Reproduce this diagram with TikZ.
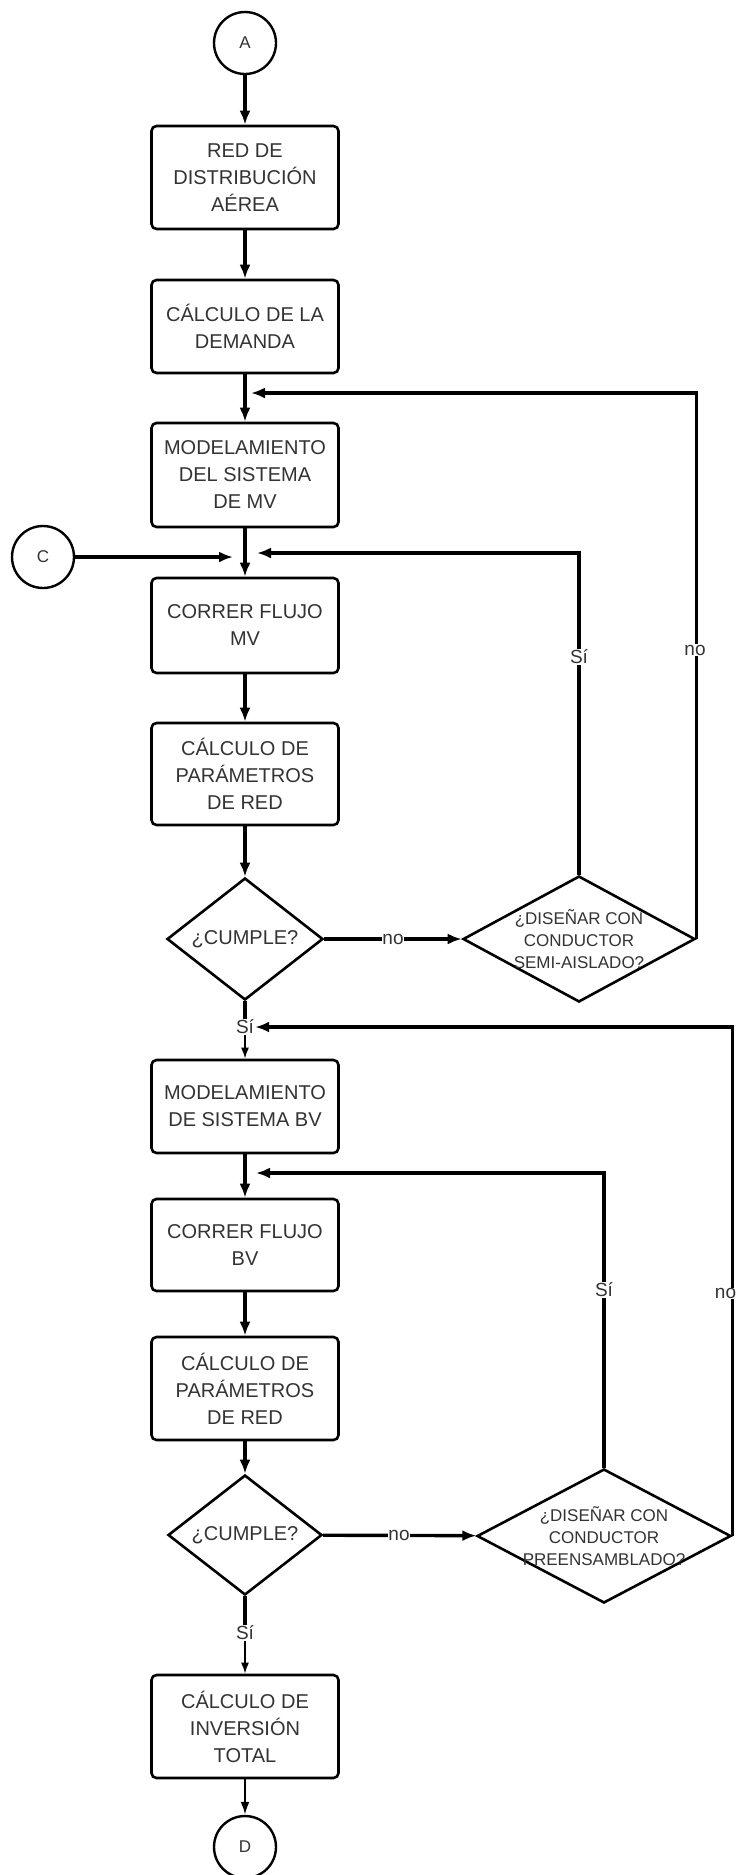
\documentclass[tikz,border=0pt]{standalone}
\usepackage{fontspec}
\setmainfont{Liberation Sans}
\usetikzlibrary{shapes.geometric,arrows.meta}
\definecolor{txt}{HTML}{333333}
\begin{document}
\begin{tikzpicture}[x=1pt,y=-1pt,
  every node/.style={font=\fontsize{20}{27}\selectfont, text=txt},
  proc/.style={draw=black, line width=2.6pt, rounded corners=5pt, fill=white,
               minimum width=187pt, align=center, inner sep=0pt},
  conn/.style={draw=black, line width=2.4pt, circle, minimum size=62pt,
               inner sep=0pt, fill=white, font=\fontsize{17}{20}\selectfont},
  decision/.style={draw=black, line width=2.6pt, diamond, inner sep=0pt, fill=white},
  dtext/.style={align=center, font=\fontsize{17}{22}\selectfont},
  flow/.style={line width=3.4pt, -{Latex[length=14pt,width=11pt]}},
  thinflow/.style={line width=1.8pt, -{Latex[length=11pt,width=8pt]}},
  link/.style={line width=3.4pt},
  lbl/.style={fill=white, inner sep=1pt, font=\fontsize{19}{22}\selectfont}
]
\useasboundingbox (0,0) rectangle (737,1875);

% ---- medium-voltage stage ----
\node[conn] (A) at (245,43) {A};
\node[proc, minimum height=103pt] (b1) at (245,177.5) {RED DE\\DISTRIBUCIÓN\\AÉREA};
\node[proc, minimum height=93pt]  (b2) at (245,326.5) {CÁLCULO DE LA\\DEMANDA};
\node[proc, minimum height=104pt] (b3) at (245,475) {MODELAMIENTO\\DEL SISTEMA\\DE MV};
\node[conn] (C) at (43,557) {C};
\node[proc, minimum height=95pt]  (b4) at (245,625.5) {CORRER FLUJO\\MV};
\node[proc, minimum height=102pt] (b5) at (245,774) {CÁLCULO DE\\PARÁMETROS\\DE RED};
\node[decision, minimum width=156pt, minimum height=122pt] (d1) at (245,939) {};
\node[decision, minimum width=232pt, minimum height=126pt] (d2) at (579,939) {};
\node (t1) at (d1.center) {¿CUMPLE?};
\node[dtext] (t2) at (d2.center) {¿DISEÑAR CON\\CONDUCTOR\\SEMI-AISLADO?};

% ---- low-voltage stage ----
\node[lbl] (s1) at (245,1027) {Sí};
\node[proc, minimum height=93pt]  (b6) at (245,1106.5) {MODELAMIENTO\\DE SISTEMA BV};
\node[proc, minimum height=92pt]  (b7) at (245,1245) {CORRER FLUJO\\BV};
\node[proc, minimum height=103pt] (b8) at (245,1388.5) {CÁLCULO DE\\PARÁMETROS\\DE RED};
\node[decision, minimum width=154pt, minimum height=120pt] (d3) at (245,1535) {};
\node[decision, minimum width=254pt, minimum height=134pt] (d4) at (604,1536) {};
\node (t3) at (d3.center) {¿CUMPLE?};
\node[dtext] (t4) at (d4.center) {¿DISEÑAR CON\\CONDUCTOR\\PREENSAMBLADO?};
\node[lbl] (s2) at (245,1633) {Sí};
\node[proc, minimum height=103pt] (b9) at (245,1726.5) {CÁLCULO DE\\INVERSIÓN\\TOTAL};
\node[conn] (D) at (245,1847) {D};

% junction points on the main line
\coordinate (j1) at (251,393);
\coordinate (j2) at (257,553);
\coordinate (jc) at (233,557);
\coordinate (j3) at (256,1173);

% main flow
\draw[flow] (A) -- (b1);
\draw[flow] (b1) -- (b2);
\draw[flow] (b2) -- (b3);
\draw[flow] (b3) -- (b4);
\draw[flow] (b4) -- (b5);
\draw[flow] (b5) -- (d1);
\draw[flow] (d1) -- (d2);
\draw[flow] (C) -- (jc);
\draw[flow] (d2.north) |- (j2);
\draw[flow] (d2.east) |- (j1);
\draw[link] (d1.south) -- (s1.north);
\draw[thinflow] (s1) -- (b6);

\draw[flow] (b6) -- (b7);
\draw[flow] (b7) -- (b8);
\draw[flow] (b8) -- (d3);
\draw[flow] (d3) -- (d4);
\draw[flow] (d4.north) |- (j3);
\draw[flow] (d4.east) |- (s1.east);
\draw[link] (d3.south) -- (s2.north);
\draw[thinflow] (s2) -- (b9);
\draw[line width=2.2pt, -{Latex[length=13pt,width=9pt]}] (b9) -- (D);

% branch labels
\node[lbl, inner sep=0.5pt] (n1) at (393,939) {no};
\node[lbl] (y1) at (579,657) {Sí};
\node[lbl] (n2) at (695,650) {no};
\node[lbl, inner sep=0.5pt] (n3) at (399,1535) {no};
\node[lbl] (y2) at (604,1290) {Sí};
\node[lbl, inner sep=0.3pt] (n4) at (725.5,1293) {no};
\end{tikzpicture}
\end{document}
